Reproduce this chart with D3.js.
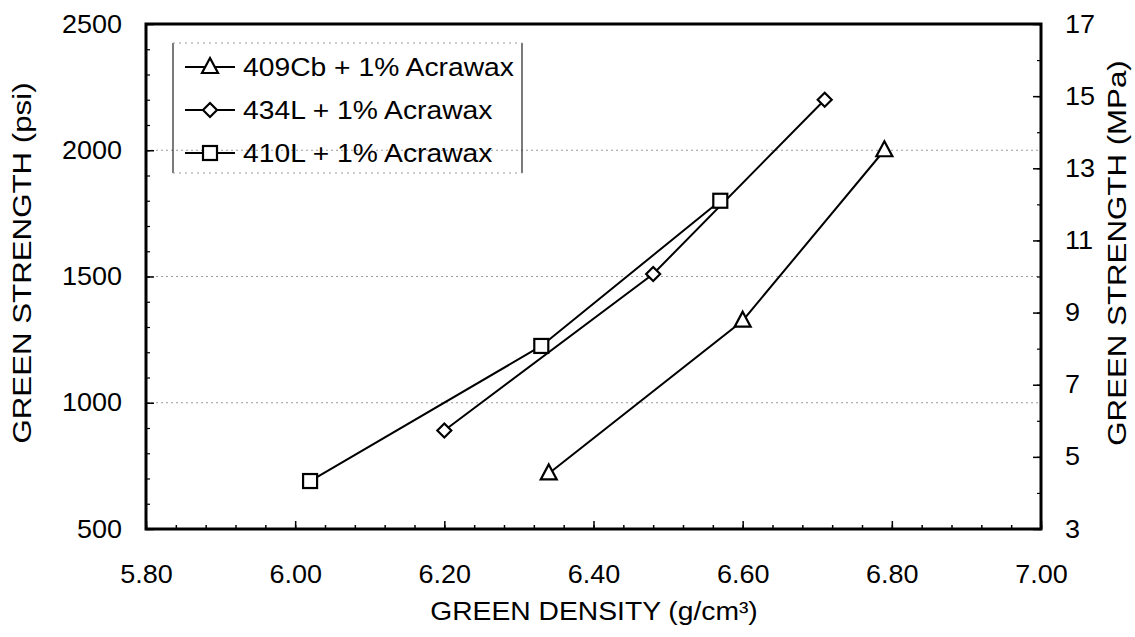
<!DOCTYPE html>
<html><head><meta charset="utf-8">
<script src="https://cdn.jsdelivr.net/npm/d3@7"></script>
<style>body{margin:0;background:#fff}svg{display:block}text{font-family:"Liberation Sans",Arial,sans-serif;fill:#000}</style>
</head><body><svg id="c" width="1135" height="637"></svg>
<script>
const seriesNames = ["409Cb + 1% Acrawax", "434L + 1% Acrawax", "410L + 1% Acrawax"];
const markers = ["triangle", "diamond", "square"];
const density409 = [6.34, 6.60, 6.79];
const strength409 = [720, 1325, 2000];
const density434 = [6.20, 6.48, 6.71];
const strength434 = [890, 1510, 2200];
const density410 = [6.02, 6.33, 6.57];
const strength410 = [690, 1225, 1800];
const xTicks = [5.80, 6.00, 6.20, 6.40, 6.60, 6.80, 7.00];
const yTicks = [500, 1000, 1500, 2000, 2500];
const yRightTicks = [3, 5, 7, 9, 11, 13, 15, 17];
const gridValues = [1000, 1500, 2000];

const svg = d3.select("#c");
const L = 146, R = 1041, T = 24, B = 529;
const x = d3.scaleLinear().domain([5.8, 7.0]).range([L, R]);
const y = d3.scaleLinear().domain([500, 2500]).range([B, T]);
const y2 = d3.scaleLinear().domain([3, 17]).range([B, T]);
const FS = 25;

// gridlines
svg.append("g").selectAll("line").data(gridValues).join("line")
  .attr("x1", L).attr("x2", R).attr("y1", d => y(d)).attr("y2", d => y(d))
  .attr("stroke", "#9a9a9a").attr("stroke-width", 1).attr("stroke-dasharray", "2,3");

// axes
const minorX = d3.range(5.80, 7.0001, 0.04);
svg.append("g").attr("transform", `translate(0,${B})`)
  .call(d3.axisBottom(x).tickValues(minorX).tickSize(-4).tickFormat(""))
  .call(g => g.select(".domain").remove())
  .call(g => g.selectAll("line").attr("stroke-width", 1.5));
svg.append("g").attr("class", "tick-lbl").attr("transform", `translate(0,${B})`)
  .call(d3.axisBottom(x).tickValues(xTicks).tickSize(-8).tickPadding(36).tickFormat(d3.format(".2f")))
  .call(g => g.select(".domain").remove())
  .call(g => g.selectAll("line").attr("stroke-width", 1.5))
  .call(g => g.selectAll("text").attr("font-size", FS).attr("font-family", "Liberation Sans, Arial, sans-serif"));

const minorY = d3.range(500, 2501, 100);
svg.append("g").attr("transform", `translate(${L},0)`)
  .call(d3.axisLeft(y).tickValues(minorY).tickSize(-4).tickFormat(""))
  .call(g => g.select(".domain").remove())
  .call(g => g.selectAll("line").attr("stroke-width", 1.2));
svg.append("g").attr("class", "tick-lbl").attr("transform", `translate(${L},0)`)
  .call(d3.axisLeft(y).tickValues(yTicks).tickSize(-8).tickPadding(24).tickFormat(d3.format("d")))
  .call(g => g.select(".domain").remove())
  .call(g => g.selectAll("line").attr("stroke-width", 1.5))
  .call(g => g.selectAll("text").attr("font-size", FS).attr("font-family", "Liberation Sans, Arial, sans-serif"));

svg.append("g").attr("transform", `translate(${R},0)`)
  .call(d3.axisRight(y2).tickValues(d3.range(3, 17.01, 1)).tickSize(-4).tickFormat(""))
  .call(g => g.select(".domain").remove())
  .call(g => g.selectAll("line").attr("stroke-width", 1.2));
svg.append("g").attr("class", "tick-lbl").attr("transform", `translate(${R},0)`)
  .call(d3.axisRight(y2).tickValues(yRightTicks).tickSize(-8).tickPadding(24).tickFormat(d3.format("d")))
  .call(g => g.select(".domain").remove())
  .call(g => g.selectAll("line").attr("stroke-width", 1.5))
  .call(g => g.selectAll("text").attr("font-size", FS).attr("font-family", "Liberation Sans, Arial, sans-serif"));

// frame
svg.append("rect").attr("x", L).attr("y", T).attr("width", R - L).attr("height", B - T)
  .attr("fill", "none").attr("stroke", "#000").attr("stroke-width", 3);

// axis titles
svg.append("text").attr("class", "htxt").attr("x", 594).attr("y", 620).attr("text-anchor", "middle")
  .attr("font-size", FS).text("GREEN DENSITY (g/cm³)");
svg.append("text").attr("class", "vtxt").attr("transform", `translate(31,263) rotate(-90)`)
  .attr("text-anchor", "middle").attr("font-size", FS).text("GREEN STRENGTH (psi)");
svg.append("text").attr("class", "vtxt").attr("transform", `translate(1126,253) rotate(-90)`)
  .attr("text-anchor", "middle").attr("font-size", FS).text("GREEN STRENGTH (MPa)");

// series
const series = [
  {name: seriesNames[0], m: markers[0], xs: density409, ys: strength409},
  {name: seriesNames[1], m: markers[1], xs: density434, ys: strength434},
  {name: seriesNames[2], m: markers[2], xs: density410, ys: strength410}
];
const line = d3.line().x(d => x(d[0])).y(d => y(d[1]));
function drawMarker(g, type, cx, cy) {
  if (type === "triangle") {
    g.append("path").attr("d", `M${cx},${cy - 9}L${cx + 8},${cy + 6}L${cx - 8},${cy + 6}Z`)
      .attr("fill", "#fff").attr("stroke", "#000").attr("stroke-width", 2.2);
  } else if (type === "diamond") {
    g.append("path").attr("d", `M${cx},${cy - 7}L${cx + 7},${cy}L${cx},${cy + 7}L${cx - 7},${cy}Z`)
      .attr("fill", "#fff").attr("stroke", "#000").attr("stroke-width", 2.2);
  } else {
    g.append("rect").attr("x", cx - 7).attr("y", cy - 7).attr("width", 14).attr("height", 14)
      .attr("fill", "#fff").attr("stroke", "#000").attr("stroke-width", 2.2);
  }
}
series.forEach(s => {
  const pts = s.xs.map((v, i) => [v, s.ys[i]]);
  const g = svg.append("g");
  g.append("path").attr("d", line(pts)).attr("fill", "none").attr("stroke", "#000").attr("stroke-width", 2);
  pts.forEach(p => drawMarker(g, s.m, x(p[0]), y(p[1])));
});

// legend
const lg = svg.append("g");
const lx0 = 173, lx1 = 522, ly0 = 43, ly1 = 173;
lg.append("line").attr("x1", lx0).attr("x2", lx0).attr("y1", ly0).attr("y2", ly1).attr("stroke", "#222").attr("stroke-width", 1.2);
lg.append("line").attr("x1", lx1).attr("x2", lx1).attr("y1", ly0).attr("y2", ly1).attr("stroke", "#222").attr("stroke-width", 1.2);
[ly0, ly1].forEach(yy => lg.append("line").attr("x1", lx0).attr("x2", lx1).attr("y1", yy).attr("y2", yy)
  .attr("stroke", "#999").attr("stroke-width", 1).attr("stroke-dasharray", "2,4"));
const rowY = [67, 110, 153];
series.forEach((s, i) => {
  lg.append("line").attr("x1", 185).attr("x2", 235).attr("y1", rowY[i]).attr("y2", rowY[i])
    .attr("stroke", "#000").attr("stroke-width", 2);
  drawMarker(lg, s.m, 210, rowY[i]);
  lg.append("text").attr("class", "htxt").attr("x", 243).attr("y", rowY[i] + 9).attr("font-size", FS).text(s.name);
});

// widen text to match the scanned reference's proportions
function stretch(sel, k) {
  sel.each(function () {
    const len = this.getComputedTextLength();
    d3.select(this).attr("textLength", len * k).attr("lengthAdjust", "spacingAndGlyphs");
  });
}
stretch(svg.selectAll(".tick-lbl text"), 1.08);
stretch(svg.selectAll("text.htxt"), 1.13);
stretch(svg.selectAll("text.vtxt"), 1.25);
</script></body></html>
